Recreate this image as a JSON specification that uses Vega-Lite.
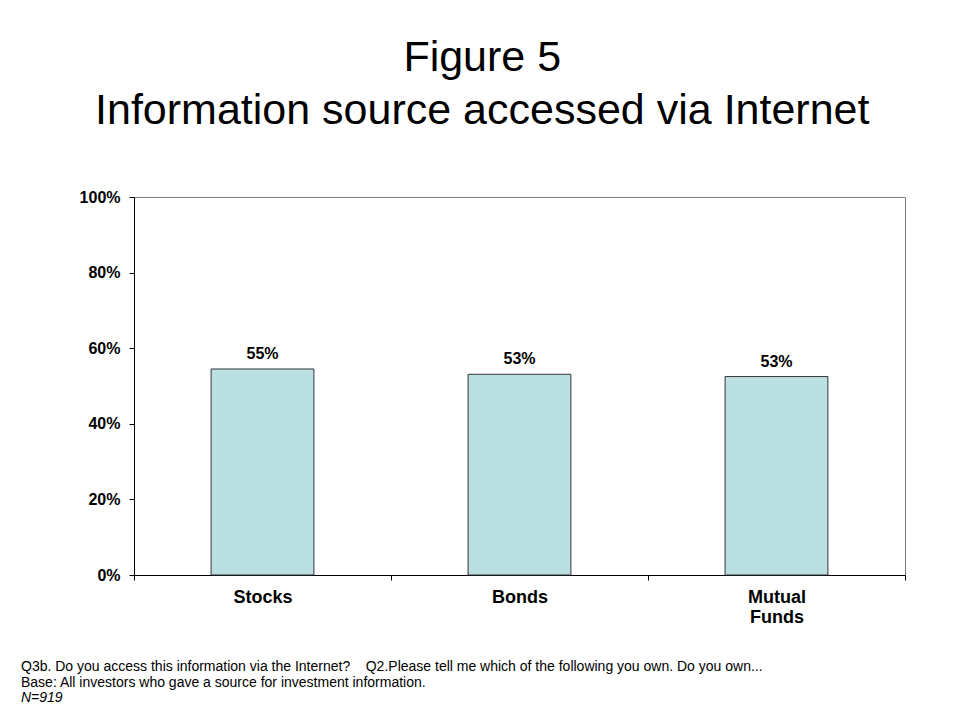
{
  "$schema": "https://vega.github.io/schema/vega-lite/v6.json",
  "background": "white",
  "padding": {"left": 20, "top": 36, "right": 10, "bottom": 10},
  "title": {
    "text": ["Figure 5", "Information source accessed via Internet"],
    "font": "Liberation Sans",
    "fontSize": 43,
    "fontWeight": "normal",
    "lineHeight": 53,
    "color": "black",
    "anchor": "middle",
    "dx": 19,
    "offset": 56
  },
  "vconcat": [
    {
      "width": 771,
      "height": 378,
      "view": {"stroke": "#808080", "strokeWidth": 1},
      "title": {
        "text": [
          "Q3b. Do you access this information via the Internet?\u00a0\u00a0\u00a0\u00a0Q2.Please tell me which of the following you own. Do you own...",
          "Base: All investors who gave a source for investment information."
        ],
        "subtitle": "N=919",
        "orient": "bottom",
        "anchor": "start",
        "frame": "group",
        "dx": -113,
        "offset": 34,
        "font": "Liberation Sans",
        "fontSize": 14,
        "fontWeight": "normal",
        "lineHeight": 16,
        "color": "black",
        "subtitleFont": "Liberation Sans",
        "subtitleFontSize": 14,
        "subtitleFontStyle": "italic",
        "subtitleColor": "black",
        "subtitleLineHeight": 16,
        "subtitlePadding": 1
      },
      "data": {
        "values": [
          {"source": "Stocks", "share": 0.545, "label": "55%"},
          {"source": "Bonds", "share": 0.531, "label": "53%"},
          {"source": "Mutual Funds", "share": 0.525, "label": "53%"}
        ]
      },
      "encoding": {
        "x": {
          "field": "source",
          "type": "nominal",
          "sort": null,
          "scale": {"paddingInner": 0, "paddingOuter": 0},
          "axis": {
            "title": null,
            "labelAngle": 0,
            "labelExpr": "isValid(datum.value) ? split(datum.value, ' ') : ''",
            "labelFont": "Liberation Sans",
            "labelFontSize": 18,
            "labelFontWeight": "bold",
            "labelColor": "black",
            "labelLineHeight": 20,
            "labelPadding": 8,
            "tickBand": "extent",
            "tickSize": 5,
            "tickColor": "black",
            "domainColor": "black",
            "grid": false
          }
        },
        "y": {
          "field": "share",
          "type": "quantitative",
          "scale": {"domain": [0, 1]},
          "axis": {
            "title": null,
            "values": [0, 0.2, 0.4, 0.6, 0.8, 1],
            "format": ".0%",
            "labelFont": "Liberation Sans",
            "labelFontSize": 16,
            "labelFontWeight": "bold",
            "labelColor": "black",
            "labelPadding": 9,
            "tickSize": 5,
            "tickColor": "black",
            "domainColor": "black",
            "grid": false
          }
        }
      },
      "layer": [
        {
          "mark": {"type": "bar", "width": {"band": 0.4}, "fill": "#BAE0E2", "stroke": "#333333", "strokeWidth": 1}
        },
        {
          "mark": {
            "type": "text",
            "baseline": "alphabetic",
            "dy": -10,
            "font": "Liberation Sans",
            "fontSize": 16,
            "fontWeight": "bold",
            "color": "black"
          },
          "encoding": {"text": {"field": "label"}}
        }
      ]
    }
  ]
}
